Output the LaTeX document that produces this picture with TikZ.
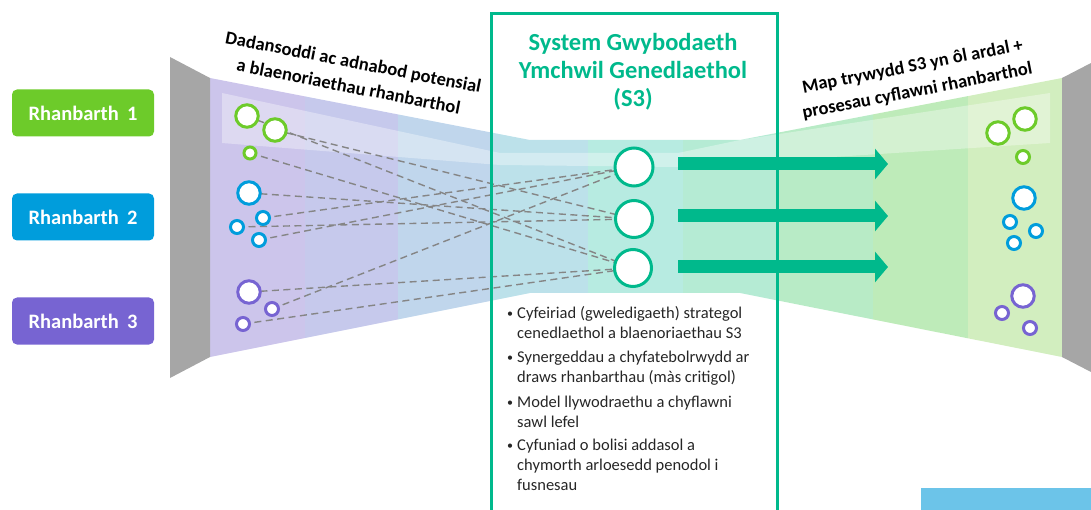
\documentclass[tikz,border=0pt]{standalone}
\usepackage{fontspec}
\setmainfont{Carlito}
\usetikzlibrary{arrows.meta}
\definecolor{rgreen}{HTML}{6DCB2A}
\definecolor{rblue}{HTML}{009DDC}
\definecolor{rpurple}{HTML}{7764D2}
\definecolor{sgreen}{HTML}{00B98C}
\definecolor{fA}{HTML}{CCC5EB}
\definecolor{fB}{HTML}{C6C9EC}
\definecolor{fC}{HTML}{C0D6EC}
\definecolor{fD}{HTML}{BCE1EA}
\definecolor{fE}{HTML}{B7EBE1}
\definecolor{fF}{HTML}{B5EBD4}
\definecolor{fG}{HTML}{B8EBC6}
\definecolor{fH}{HTML}{BEEBB9}
\definecolor{fI}{HTML}{D2EEBF}
\definecolor{wallgray}{HTML}{A6A6A6}
\definecolor{dashgray}{HTML}{858585}
\definecolor{cornerblue}{HTML}{6CC4E9}
\pgfdeclarelayer{bg}
\pgfdeclarelayer{lines}
\pgfsetlayers{bg,lines,main}
\tikzset{
  bigc/.style={circle, line width=3pt, fill=white, minimum size=22.5pt, inner sep=0pt},
  smallc/.style={circle, line width=3pt, fill=white, minimum size=13pt, inner sep=0pt},
  cenc/.style={circle, draw=sgreen, line width=3pt, fill=white, minimum size=37pt, inner sep=0pt},
  link/.style={draw=dashgray, line width=1.4pt, dash pattern=on 7pt off 4.5pt},
  region/.style={rounded corners=5pt, minimum width=142pt, minimum height=47pt, text=white,
    font=\fontsize{20.5}{24}\selectfont\bfseries, inner sep=0pt},
  flowlbl/.style={align=center, font=\fontsize{18.5}{25}\selectfont\bfseries, inner sep=0pt},
  titlelbl/.style={align=center, text=sgreen, font=\fontsize{24.5}{28}\selectfont\bfseries, inner sep=0pt},
  bodyline/.style={anchor=base west, font=\fontsize{16.5}{20}\selectfont, text=black!85, inner sep=0pt},
  bulletdot/.style={anchor=base west, font=\fontsize{12}{14}\selectfont, text=black!85, inner sep=0pt},
  bigarrow/.style={draw=sgreen, line width=13pt, -{Triangle[width=30pt,length=13pt]}}
}
\begin{document}
\begin{tikzpicture}[x=1pt,y=-1pt]
\useasboundingbox (0,0) rectangle (1091,510);

% ---------- funnel background ----------
\begin{pgfonlayer}{bg}
\begin{scope}
  \clip (210,78) -- (530,140) -- (740,140) -- (1062,78) -- (1062,357) -- (740,293) -- (530,293) -- (210,357) -- cycle;
  \fill[fA] (210,60) rectangle (305,380);
  \fill[fB] (305,60) rectangle (398,380);
  \fill[fC] (398,60) rectangle (490,380);
  \fill[fD] (490,60) rectangle (588,380);
  \fill[fE] (588,60) rectangle (683,380);
  \fill[fF] (683,60) rectangle (776,380);
  \fill[fG] (776,60) rectangle (873,380);
  \fill[fH] (873,60) rectangle (968,380);
  \fill[fI] (968,60) rectangle (1062,380);
  % lighter strips
  \fill[white, opacity=0.35] (222,93) -- (500,153) -- (678,153) -- (678,167) -- (500,165) -- (222,143) -- cycle;
  \fill[white, opacity=0.35] (678,153) -- (740,140) -- (1050,93) -- (1050,143) -- (740,163) -- (678,167) -- cycle;
\end{scope}
% side walls
\fill[wallgray] (170,57) -- (210,78) -- (210,357) -- (170,378) -- cycle;
\fill[wallgray] (1062,78) -- (1091,63) -- (1091,372) -- (1062,357) -- cycle;
\end{pgfonlayer}

% ---------- left circles ----------
\node[bigc, draw=rgreen] (g1) at (247,116) {};
\node[bigc, draw=rgreen] (g2) at (275,130) {};
\node[smallc, draw=rgreen, minimum size=12pt] (g3) at (250,153) {};
\node[bigc, draw=rblue] (b1) at (249,193) {};
\node[smallc, draw=rblue] (b2) at (263,218) {};
\node[smallc, draw=rblue] (b3) at (237,227) {};
\node[smallc, draw=rblue] (b4) at (259,240) {};
\node[bigc, draw=rpurple] (p1) at (249,292) {};
\node[smallc, draw=rpurple] (p2) at (272,309) {};
\node[smallc, draw=rpurple] (p3) at (243,324) {};

% ---------- central circles ----------
\node[cenc, minimum size=38pt] (c1) at (634,167) {};
\node[cenc] (c2) at (634,219) {};
\node[cenc] (c3) at (633,268) {};

% ---------- dashed links ----------
\begin{pgfonlayer}{lines}
\draw[link] (g1.center) -- (c3.center);
\draw[link] (g2.center) -- (c2.center);
\draw[link] (g3.center) -- (c3.center);
\draw[link] (b1.center) -- (c2.center);
\draw[link] (b2.center) -- (c1.center);
\draw[link] (b3.center) -- (c2.center);
\draw[link] (b4.center) -- (c1.center);
\draw[link] (p1.center) -- (c3.center);
\draw[link] (p2.center) -- (c1.center);
\draw[link] (p3.center) -- (c3.center);
\end{pgfonlayer}

% ---------- block arrows ----------
\coordinate (a1s) at (678,164);
\coordinate (a1e) at (888,164);
\coordinate (a2s) at (678,216);
\coordinate (a2e) at (888,216);
\coordinate (a3s) at (678,267);
\coordinate (a3e) at (888,267);
\draw[bigarrow] (a1s) -- (a1e);
\draw[bigarrow] (a2s) -- (a2e);
\draw[bigarrow] (a3s) -- (a3e);

% ---------- central box ----------
\node[draw=sgreen, line width=3pt, minimum width=286pt, minimum height=520pt, anchor=north west, inner sep=0pt] (s3box) at (490,12) {};
\node[titlelbl] (s3title) at (633,72) {System Gwybodaeth\\Ymchwil Genedlaethol\\(S3)};

% bullets
\node[bulletdot] (d1) at (507,317) {•};
\node[bodyline] (t1a) at (517,318) {Cyfeiriad (gweledigaeth) strategol};
\node[bodyline] (t1b) at (517,338) {cenedlaethol a blaenoriaethau S3};
\node[bulletdot] (d2) at (507,361) {•};
\node[bodyline] (t2a) at (517,362) {Synergeddau a chyfatebolrwydd ar};
\node[bodyline] (t2b) at (517,382) {draws rhanbarthau (màs critigol)};
\node[bulletdot] (d3) at (507,406) {•};
\node[bodyline] (t3a) at (517,407) {Model llywodraethu a chyflawni};
\node[bodyline] (t3b) at (517,427) {sawl lefel};
\node[bulletdot] (d4) at (507,449) {•};
\node[bodyline] (t4a) at (517,450) {Cyfuniad o bolisi addasol a};
\node[bodyline] (t4b) at (517,470) {chymorth arloesedd penodol i};
\node[bodyline] (t4c) at (517,490) {fusnesau};

% ---------- right circles ----------
\node[bigc, draw=rgreen] (rg1) at (998,133) {};
\node[bigc, draw=rgreen] (rg2) at (1025,119) {};
\node[smallc, draw=rgreen] (rg3) at (1023,157) {};
\node[bigc, draw=rblue] (rb1) at (1024,198) {};
\node[smallc, draw=rblue] (rb2) at (1010,222) {};
\node[smallc, draw=rblue] (rb3) at (1036,231) {};
\node[smallc, draw=rblue] (rb4) at (1014,243) {};
\node[bigc, draw=rpurple] (rp1) at (1023,296) {};
\node[smallc, draw=rpurple] (rp2) at (1002,313) {};
\node[smallc, draw=rpurple] (rp3) at (1030,328) {};

% ---------- rotated labels ----------
\node[flowlbl, rotate=-11] (ltitle) at (351,74) {Dadansoddi ac adnabod potensial\\a blaenoriaethau rhanbarthol};
\node[flowlbl, rotate=11] (rtitle) at (915,79) {Map trywydd S3 yn ôl ardal +\\prosesau cyflawni rhanbarthol};

% ---------- region boxes ----------
\node[region, fill=rgreen] (r1) at (83,113) {Rhanbarth\hspace{0.4em}1};
\node[region, fill=rblue] (r2) at (83,217) {Rhanbarth\hspace{0.4em}2};
\node[region, fill=rpurple] (r3) at (83,321) {Rhanbarth\hspace{0.4em}3};

% corner block
\fill[cornerblue] (921,488) rectangle (1091,510);
\end{tikzpicture}
\end{document}
